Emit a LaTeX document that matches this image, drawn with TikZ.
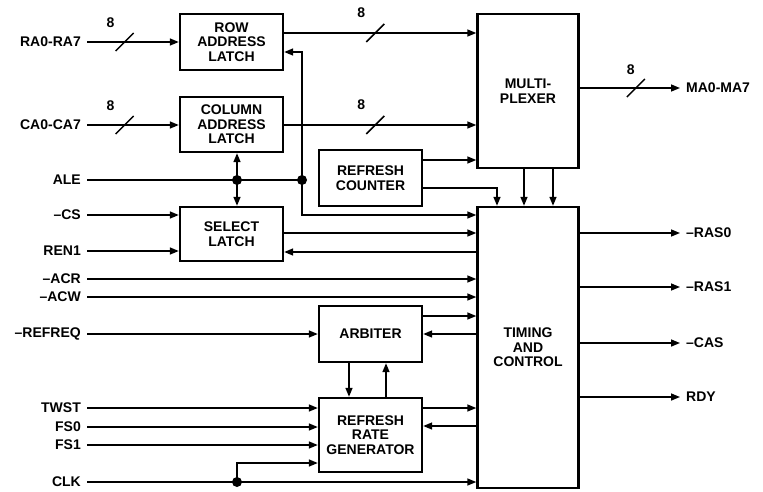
\documentclass[tikz,border=0pt]{standalone}
\usepackage{fontspec}
\setmainfont{Liberation Sans}
\usetikzlibrary{arrows.meta, positioning, calc}

\tikzset{busmark/.pic={\draw [line width=1.5pt] (-9pt,-9pt) -- (9pt,9pt);}}

\begin{document}
\begin{tikzpicture}[
    x=1pt, y=-1pt,
    font=\fontsize{14}{14.5}\selectfont\bfseries,
    >={Triangle[length=9pt, width=7pt]},
    block/.style={rectangle, draw, line width=2.4pt, inner sep=0pt, align=center, minimum width=103pt},
    pin/.style={inner xsep=6pt, inner ysep=0pt},
    line/.style={draw, line width=1.5pt, ->},
    wire/.style={draw, line width=1.5pt},
    dot/.style={circle, fill, inner sep=0pt, minimum size=10pt}
]

    \useasboundingbox (0,0) rectangle (763,491);

    % Latches
    \node [block, minimum height=56pt] (rowlatch) at (231.5,42) {ROW\\ADDRESS\\LATCH};
    \node [block, minimum height=55pt] (collatch) at (231.5,124.5) {COLUMN\\ADDRESS\\LATCH};
    \node [block, minimum height=54pt] (selatch) at (231.5,234) {SELECT\\LATCH};

    % Middle column
    \node [block, minimum height=56pt] (refcnt) at (370.5,178) {REFRESH\\COUNTER};
    \node [block, minimum height=56pt] (arbiter) at (370.5,334) {ARBITER};
    \node [block, minimum height=74pt] (rrg) at (370.5,435) {REFRESH\\RATE\\GENERATOR};

    % Right column
    \node [block, minimum width=101pt, minimum height=154pt] (mux) at (528,91) {MULTI-\\PLEXER};
    \node [block, minimum width=101pt, minimum height=281pt] (timing) at (528,347.5) {TIMING\\AND\\CONTROL};

    % Input pins
    \node [pin, anchor=east] (ra) at (87,42) {RA0-RA7};
    \node [pin, anchor=east] (ca) at (87,125) {CA0-CA7};
    \node [pin, anchor=east] (ale) at (87,180) {ALE};
    \node [pin, anchor=east] (cs) at (87,215) {--CS};
    \node [pin, anchor=east] (ren) at (87,251) {REN1};
    \node [pin, anchor=east] (acr) at (87,279) {--ACR};
    \node [pin, anchor=east] (acw) at (87,297) {--ACW};
    \node [pin, anchor=east] (refreq) at (87,334) {--REFREQ};
    \node [pin, anchor=east] (twst) at (87,408) {TWST};
    \node [pin, anchor=east] (fsa) at (87,427) {FS0};
    \node [pin, anchor=east] (fsb) at (87,445) {FS1};
    \node [pin, anchor=east] (clk) at (87,482) {CLK};

    % Output pins
    \node [pin, anchor=west] (ma) at (680,88) {MA0-MA7};
    \node [pin, anchor=west] (rasa) at (680,233) {--RAS0};
    \node [pin, anchor=west] (rasb) at (680,287) {--RAS1};
    \node [pin, anchor=west] (cas) at (680,343) {--CAS};
    \node [pin, anchor=west] (rdy) at (680,397) {RDY};

    % Junctions
    \node [dot] (alecol) at (237,180) {};
    \node [dot] (alerow) at (302,180) {};
    \node [dot] (clkdot) at (237,482) {};

    % Address buses
    \path [line] (ra.east) -- coordinate [pos=0.41] (rabus) (ra.east -| rowlatch.west);
    \path [line] (ca.east) -- coordinate [pos=0.41] (cabus) (ca.east -| collatch.west);
    \path [line] (rowlatch.east |- 0,33) -- coordinate [pos=0.474] (rowbus) (mux.west |- 0,33);
    \path [line] (collatch.east |- 0,125) -- coordinate [pos=0.474] (colbus) (mux.west |- 0,125);
    \path [line] (mux.east |- ma) -- coordinate [pos=0.56] (mabus) (ma.west);
    \pic at (rabus) {busmark};
    \pic at (cabus) {busmark};
    \pic at (rowbus) {busmark};
    \pic at (colbus) {busmark};
    \pic at (mabus) {busmark};
    \node at ([shift={(-14pt,19pt)}]rabus) {8};
    \node at ([shift={(-14pt,19pt)}]cabus) {8};
    \node at ([shift={(-14pt,20pt)}]rowbus) {8};
    \node at ([shift={(-14pt,20pt)}]colbus) {8};
    \node at ([shift={(-5pt,18pt)}]mabus) {8};

    % Refresh counter and multiplexer to timing
    \path [line] (refcnt.east |- 0,160) -- (mux.west |- 0,160);
    \path [line] (refcnt.east |- 0,188) -| (timing.north -| 497,0);
    \path [line] (mux.south -| 524,0) -- (timing.north -| 524,0);
    \path [line] (mux.south -| 553,0) -- (timing.north -| 553,0);

    % ALE
    \path [wire] (ale.east) -- (alerow.center);
    \path [line] (alecol.center) -- (alecol |- collatch.south);
    \path [line] (alecol.center) -- (alecol |- selatch.north);
    \path [line, <->] (rowlatch.east |- 0,52) -| (alerow |- 0,215) -- (timing.west |- 0,215);

    % Select latch
    \path [line] (cs.east) -- (cs.east -| selatch.west);
    \path [line] (ren.east) -- (ren.east -| selatch.west);
    \path [line] (selatch.east |- 0,233) -- (timing.west |- 0,233);
    \path [line] (timing.west |- 0,252) -- (selatch.east |- 0,252);

    % Access requests
    \path [line] (acr.east) -- (acr.east -| timing.west);
    \path [line] (acw.east) -- (acw.east -| timing.west);

    % Arbiter
    \path [line] (refreq.east) -- (refreq.east -| arbiter.west);
    \path [line] (arbiter.east |- 0,316) -- (timing.west |- 0,316);
    \path [line] (timing.west |- 0,334) -- (arbiter.east |- 0,334);
    \path [line] (arbiter.south -| 349,0) -- (rrg.north -| 349,0);
    \path [line] (rrg.north -| 386,0) -- (arbiter.south -| 386,0);

    % Refresh rate generator
    \path [line] (twst.east) -- (twst.east -| rrg.west);
    \path [line] (fsa.east) -- (fsa.east -| rrg.west);
    \path [line] (fsb.east) -- (fsb.east -| rrg.west);
    \path [line] (clkdot.center) |- (rrg.west |- 0,463);
    \path [line] (clk.east) -- (clk.east -| timing.west);
    \path [line] (rrg.east |- 0,408) -- (timing.west |- 0,408);
    \path [line] (timing.west |- 0,426) -- (rrg.east |- 0,426);

    % Outputs
    \path [line] (timing.east |- rasa) -- (rasa.west);
    \path [line] (timing.east |- rasb) -- (rasb.west);
    \path [line] (timing.east |- cas) -- (cas.west);
    \path [line] (timing.east |- rdy) -- (rdy.west);

\end{tikzpicture}
\end{document}
